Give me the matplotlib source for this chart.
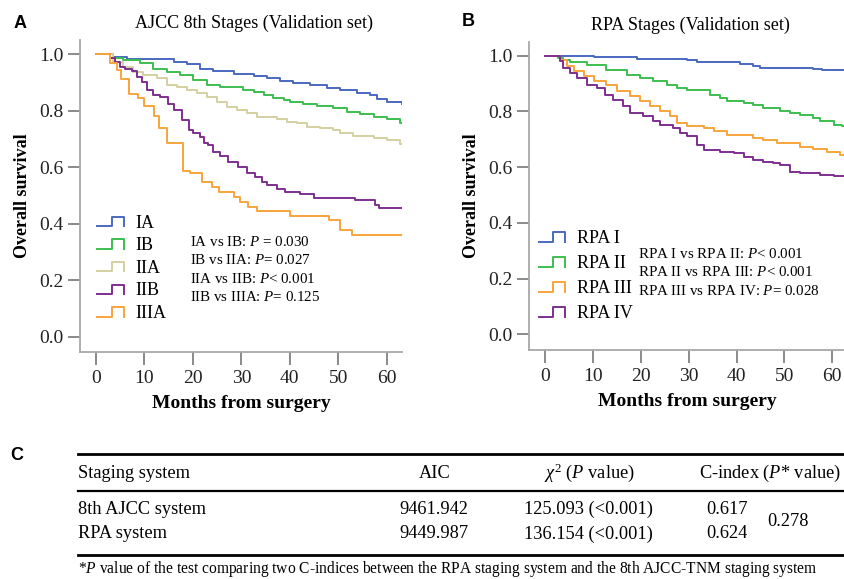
import numpy as np
import matplotlib
matplotlib.use('Agg')
import matplotlib.pyplot as plt
from matplotlib.lines import Line2D
from matplotlib.legend_handler import HandlerBase

plt.rcParams['font.family'] = ['Liberation Serif', 'DejaVu Sans']
plt.rcParams['mathtext.fontset'] = 'custom'
plt.rcParams['mathtext.rm'] = 'Liberation Serif'
plt.rcParams['mathtext.it'] = 'Liberation Serif:italic'
plt.rcParams['mathtext.bf'] = 'Liberation Serif:bold'

# ── data: panel A (AJCC 8th) — step change points ───────────────────────────
t_IA   = [0, 3.6, 6.3, 16.0, 18.7, 21.5, 24.2, 28.4, 32.5, 35.2, 38.0, 40.7,
          44.2, 47.6, 50.4, 53.8, 56.6, 58.0, 60.0, 63.2]
s_IA   = [1.0, 0.992, 0.982, 0.974, 0.965, 0.950, 0.941, 0.930, 0.923, 0.915,
          0.906, 0.897, 0.891, 0.882, 0.874, 0.865, 0.856, 0.842, 0.832, 0.826]
t_IB   = [0, 2.9, 5.6, 9.1, 11.8, 14.6, 17.3, 20.1, 22.9, 25.6, 30.4, 32.5,
          34.6, 36.6, 38.7, 40.1, 42.8, 45.6, 49.0, 51.8, 54.5, 57.3, 60.0,
          62.8, 63.2]
s_IB   = [1.0, 0.989, 0.980, 0.970, 0.950, 0.939, 0.927, 0.909, 0.891, 0.883,
          0.874, 0.868, 0.856, 0.844, 0.838, 0.832, 0.826, 0.817, 0.809, 0.797,
          0.789, 0.779, 0.770, 0.758, 0.758]
t_IIA  = [0, 3.6, 5.6, 7.7, 9.8, 12.5, 14.6, 16.7, 18.7, 20.8, 22.9, 24.9,
          27.0, 29.0, 31.1, 33.2, 37.3, 39.4, 41.4, 43.5, 46.3, 49.0, 50.4,
          53.1, 57.3, 60.0, 62.8, 63.2]
s_IIA  = [1.0, 0.974, 0.956, 0.939, 0.927, 0.915, 0.891, 0.883, 0.874, 0.862,
          0.850, 0.832, 0.815, 0.803, 0.791, 0.779, 0.770, 0.761, 0.756, 0.744,
          0.740, 0.732, 0.720, 0.711, 0.705, 0.697, 0.682, 0.682]
t_IIB  = [0, 2.9, 3.9, 5.0, 6.0, 7.4, 8.4, 9.4, 10.5, 11.8, 13.2, 14.9, 16.0,
          17.7, 19.1, 20.1, 21.5, 22.2, 23.2, 24.2, 25.6, 27.3, 29.2, 31.1,
          32.8, 34.2, 35.2, 37.3, 39.0, 42.1, 44.9, 53.5, 57.6, 58.3, 63.2]
s_IIB  = [1.0, 0.989, 0.974, 0.956, 0.948, 0.942, 0.921, 0.903, 0.874, 0.856,
          0.848, 0.826, 0.803, 0.767, 0.732, 0.720, 0.708, 0.685, 0.679, 0.655,
          0.640, 0.620, 0.602, 0.581, 0.567, 0.549, 0.537, 0.525, 0.514, 0.504,
          0.492, 0.484, 0.466, 0.457, 0.457]
t_IIIA = [0, 2.9, 4.3, 5.1, 6.9, 8.7, 9.9, 12.0, 13.1, 14.6, 17.9, 19.4, 21.8,
          23.9, 25.3, 28.4, 29.7, 31.3, 33.2, 40.1, 48.0, 50.4, 52.8, 63.2]
s_IIIA = [1.0, 0.968, 0.945, 0.913, 0.860, 0.844, 0.817, 0.782, 0.740, 0.687,
          0.588, 0.581, 0.549, 0.531, 0.514, 0.496, 0.478, 0.460, 0.446, 0.427,
          0.413, 0.378, 0.359, 0.359]

# ── data: panel B (RPA) ──────────────────────────────────────────────────────
t_R1 = [0, 10.1, 19.1, 29.6, 31.7, 40.8, 43.5, 44.9, 56.1, 57.9, 62.7]
s_R1 = [1.0, 0.995, 0.988, 0.983, 0.976, 0.970, 0.964, 0.957, 0.953, 0.947, 0.947]
t_R2 = [0, 2.7, 3.8, 5.2, 8.7, 12.8, 17.0, 19.8, 22.6, 25.4, 27.5, 29.6, 34.5,
        36.6, 38.0, 41.5, 43.5, 45.6, 49.1, 51.2, 53.3, 56.1, 57.5, 60.3, 62.0,
        62.7]
s_R2 = [1.0, 0.992, 0.986, 0.976, 0.966, 0.950, 0.932, 0.920, 0.908, 0.896,
        0.884, 0.878, 0.860, 0.848, 0.836, 0.830, 0.824, 0.812, 0.800, 0.794,
        0.788, 0.776, 0.764, 0.752, 0.746, 0.746]
t_R3 = [0, 3.1, 4.5, 5.9, 8.0, 10.1, 12.8, 14.9, 17.7, 19.8, 21.9, 24.0, 26.1,
        27.5, 29.6, 33.1, 35.2, 38.0, 43.5, 45.6, 48.4, 53.3, 56.1, 58.9, 61.7,
        62.7]
s_R3 = [1.0, 0.986, 0.962, 0.944, 0.926, 0.908, 0.896, 0.872, 0.854, 0.836,
        0.818, 0.800, 0.782, 0.758, 0.746, 0.740, 0.728, 0.716, 0.704, 0.698,
        0.686, 0.672, 0.665, 0.656, 0.644, 0.644]
t_R4 = [0, 3.1, 3.8, 5.2, 6.6, 8.7, 10.8, 12.5, 14.2, 16.3, 17.7, 20.5, 22.6,
        24.0, 26.8, 28.2, 29.6, 31.7, 33.1, 36.6, 39.4, 41.5, 43.5, 45.6, 47.7,
        49.1, 51.2, 53.3, 57.5, 60.3, 62.7]
s_R4 = [1.0, 0.980, 0.956, 0.938, 0.920, 0.896, 0.884, 0.860, 0.842, 0.818,
        0.794, 0.782, 0.764, 0.752, 0.740, 0.722, 0.710, 0.680, 0.662, 0.656,
        0.650, 0.638, 0.626, 0.620, 0.614, 0.606, 0.584, 0.578, 0.572, 0.569,
        0.569]

labels_A = ['IA', 'IB', 'IIA', 'IIB', 'IIIA']
labels_B = ['RPA I', 'RPA II', 'RPA III', 'RPA IV']
pvals_A = ['IA vs IB: $\\it{P}$ = 0.030', 'IB vs IIA: $\\it{P}$= 0.027',
           'IIA vs IIB: $\\it{P}$< 0.001', 'IIB vs IIIA: $\\it{P}$= 0.125']
pvals_B = ['RPA I vs RPA II: $\\it{P}$< 0.001', 'RPA II vs RPA III: $\\it{P}$< 0.001',
           'RPA III vs RPA IV: $\\it{P}$= 0.028']

# ── table C ──────────────────────────────────────────────────────────────────
tab_header = ['Staging system', 'AIC', '$\\chi^2$ ($\\it{P}$ value)',
              'C-index ($\\it{P}$* value)']
tab_systems = ['8th AJCC system', 'RPA system']
tab_aic = ['9461.942', '9449.987']
tab_chi = ['125.093 (<0.001)', '136.154 (<0.001)']
tab_cidx = ['0.617', '0.624']
tab_pstar = '0.278'
footnote = ('*$\\it{P}$ value of the test comparing two C-indices between the RPA '
            'staging system and the 8th AJCC-TNM staging system')

COL_A = ['#4A68C0', '#3DBE4E', '#D5D0A0', '#7E2F8E', '#F8A43A']
COL_B = ['#4A68C0', '#3DBE4E', '#F8A43A', '#7E2F8E']
SPINE = '#A8A8A8'
W, H = 845, 579


class StepHandler(HandlerBase):
    def create_artists(self, legend, orig_handle, xdescent, ydescent,
                       width, height, fontsize, trans):
        x0, y0 = -xdescent, -ydescent
        xm = x0 + 0.55 * width
        lo, hi = y0 + 0.1 * height, y0 + 0.85 * height
        ln = Line2D([x0, xm, xm, x0 + width, x0 + width], [lo, lo, hi, hi, lo],
                    color=orig_handle.get_color(),
                    lw=orig_handle.get_linewidth(), transform=trans)
        return [ln]


def fx(px):
    return px / W


def fy(py):
    return 1 - py / H


def style_axes(ax, xlim, ylim):
    for s in ['top', 'right']:
        ax.spines[s].set_visible(False)
    for s in ['left', 'bottom']:
        ax.spines[s].set_color(SPINE)
        ax.spines[s].set_linewidth(1.3)
    ax.set_xlim(*xlim)
    ax.set_ylim(*ylim)
    ax.set_xticks(np.arange(0, 61, 10))
    ax.set_yticks(np.arange(0, 1.01, 0.2))
    ax.set_yticklabels([f'{v:.1f}' for v in np.arange(0, 1.01, 0.2)])
    ax.tick_params(axis='both', direction='out', length=9, width=1.2,
                   color='#777777', labelsize=14, labelcolor='#222222')
    ax.tick_params(axis='x', pad=4)
    ax.tick_params(axis='y', pad=3)
    ax.set_xlabel('Months from surgery', fontsize=14, fontweight='bold', labelpad=6)
    ax.set_ylabel('Overall survival', fontsize=13, fontweight='bold', labelpad=6)


fig = plt.figure(figsize=(8.45, 5.79), dpi=100)

# ── panel A ──────────────────────────────────────────────────────────────────
axA = fig.add_axes([fx(80), fy(351.7), fx(402.3 - 80), (351.7 - 40) / H])
handles_A = []
for t, s, c in zip([t_IA, t_IB, t_IIA, t_IIB, t_IIIA],
                   [s_IA, s_IB, s_IIA, s_IIB, s_IIIA], COL_A):
    ln, = axA.step(t, s, where='post', color=c, lw=1.4)
    handles_A.append(ln)
style_axes(axA, (-3.3, 63.2), (-0.053, 1.051))
axA.legend(handles_A, labels_A, handler_map={Line2D: StepHandler()},
           loc='upper left', bbox_to_anchor=(fx(97), fy(214.5)),
           bbox_transform=fig.transFigure, frameon=False, fontsize=13,
           borderpad=0, borderaxespad=0, handlelength=1.5, handletextpad=0.61,
           labelspacing=0.31)
for i, txt in enumerate(pvals_A):
    fig.text(fx(190.5), fy(242 + 18.3 * i), txt, fontsize=10.8, va='center', ha='left')
fig.text(fx(254), fy(23), 'AJCC 8th Stages (Validation set)', fontsize=13,
         ha='center', va='center')
fig.text(fx(20), fy(23), 'A', fontsize=13, fontweight='bold', ha='center',
         va='center', family='Liberation Sans')

# ── panel B ──────────────────────────────────────────────────────────────────
axB = fig.add_axes([fx(529.3), fy(350), fx(845 - 529.3), (350 - 41.7) / H])
handles_B = []
for t, s, c in zip([t_R1, t_R2, t_R3, t_R4], [s_R1, s_R2, s_R3, s_R4], COL_B):
    ln, = axB.step(t, s, where='post', color=c, lw=1.4)
    handles_B.append(ln)
style_axes(axB, (-3.35, 62.7), (-0.056, 1.050))
axB.legend(handles_B, labels_B, handler_map={Line2D: StepHandler()},
           loc='upper left', bbox_to_anchor=(fx(539), fy(230)),
           bbox_transform=fig.transFigure, frameon=False, fontsize=13,
           borderpad=0, borderaxespad=0, handlelength=1.44, handletextpad=0.65,
           labelspacing=0.44)
for i, txt in enumerate(pvals_B):
    fig.text(fx(638.3), fy(254 + 18.5 * i), txt, fontsize=10.8, va='center', ha='left')
fig.text(fx(690), fy(25), 'RPA Stages (Validation set)', fontsize=13,
         ha='center', va='center')
fig.text(fx(468), fy(22), 'B', fontsize=13, fontweight='bold', ha='center',
         va='center', family='Liberation Sans')

# ── panel C: table ───────────────────────────────────────────────────────────
fig.text(fx(17), fy(455), 'C', fontsize=13, fontweight='bold', ha='center',
         va='center', family='Liberation Sans')
for yy, lw in [(454, 2.0), (491, 1.6), (555, 2.0)]:
    fig.add_artist(Line2D([fx(78), 1.0], [fy(yy), fy(yy)], color='black',
                          lw=lw, transform=fig.transFigure))
fs_tab = 13.2
fig.text(fx(78), fy(473), tab_header[0], fontsize=fs_tab, va='center', ha='left')
fig.text(fx(435), fy(473), tab_header[1], fontsize=fs_tab, va='center', ha='center')
fig.text(fx(589), fy(473), tab_header[2], fontsize=fs_tab, va='center', ha='center')
fig.text(fx(699), fy(473), tab_header[3], fontsize=fs_tab, va='center', ha='left')
for i, yy in enumerate([509, 534]):
    fig.text(fx(78), fy(yy), tab_systems[i], fontsize=fs_tab, va='center', ha='left')
    fig.text(fx(434), fy(yy), tab_aic[i], fontsize=fs_tab, va='center', ha='center')
    fig.text(fx(588), fy(yy), tab_chi[i], fontsize=fs_tab, va='center', ha='center')
    fig.text(fx(706), fy(yy), tab_cidx[i], fontsize=fs_tab, va='center', ha='left')
fig.text(fx(767), fy(521), tab_pstar, fontsize=fs_tab, va='center', ha='left')
fig.text(fx(78), fy(569), footnote, fontsize=11.2, va='center', ha='left')

fig.savefig('out.png', dpi=100)
